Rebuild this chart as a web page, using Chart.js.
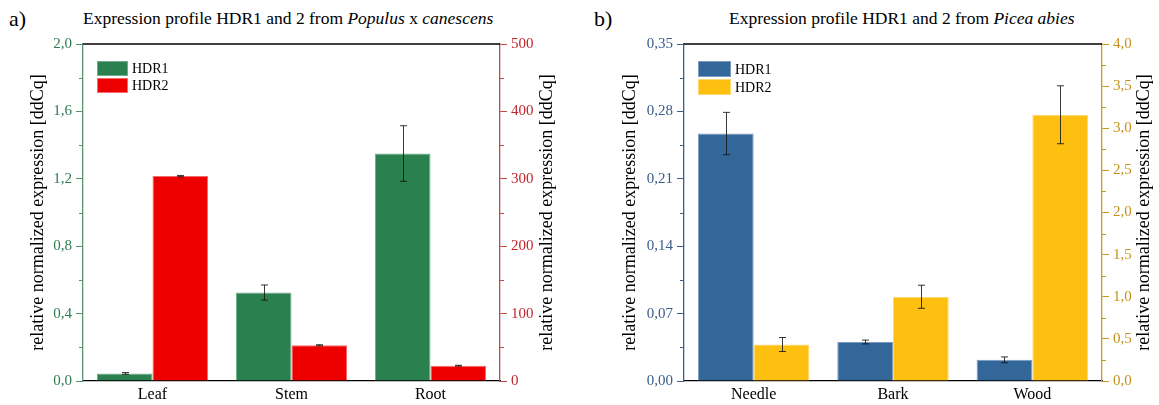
<!DOCTYPE html>
<html>
<head>
<meta charset="utf-8">
<script src="https://cdn.jsdelivr.net/npm/chart.js@4/dist/chart.umd.min.js"></script>
<style>
  html, body { margin: 0; padding: 0; background: #fff; }
  body { width: 1159px; height: 405px; overflow: hidden; position: relative; font-family: "Liberation Serif", Tinos, "Times New Roman", "DejaVu Serif", serif; }
  .panel { position: absolute; top: 0; height: 405px; }
  .tag { position: absolute; top: 6px; font-size: 22px; color: #000; }
  .ttl { position: absolute; top: 8px; font-size: 17.5px; color: #000; white-space: nowrap; }
</style>
</head>
<body>
<div class="tag" style="left:9px">a)</div>
<div class="ttl" style="left:83px">Expression profile HDR1 and 2 from <i>Populus</i> x <i>canescens</i></div>
<div class="tag" style="left:594px">b)</div>
<div class="ttl" style="left:729px">Expression profile HDR1 and 2 from <i>Picea abies</i></div>
<div class="panel" style="left:0;width:580px"><canvas id="cA" width="580" height="405"></canvas></div>
<div class="panel" style="left:580px;width:579px"><canvas id="cB" width="579" height="405"></canvas></div>
<script>
// Populus x canescens
const tissuesA = ['Leaf', 'Stem', 'Root'];
const hdr1A = [0.045, 0.525, 1.35];
const hdr1AErr = [0.005, 0.045, 0.165];
const hdr2A = [304, 53, 22.7];
const hdr2AErr = [1, 0.8, 0.6];
const leftTicksA = [0, 0.4, 0.8, 1.2, 1.6, 2.0];
const leftMinorA = [0.2, 0.6, 1.0, 1.4, 1.8];
const rightTicksA = [0, 100, 200, 300, 400, 500];
const rightMinorA = [50, 150, 250, 350, 450];

// Picea abies
const tissuesB = ['Needle', 'Bark', 'Wood'];
const hdr1B = [0.257, 0.0405, 0.022];
const hdr1BErr = [0.022, 0.002, 0.003];
const hdr2B = [0.433, 1.0, 3.16];
const hdr2BErr = [0.083, 0.137, 0.344];
const leftTicksB = [0, 0.07, 0.14, 0.21, 0.28, 0.35];
const leftMinorB = [0.035, 0.105, 0.175, 0.245, 0.315];
const rightTicksB = [0, 0.5, 1.0, 1.5, 2.0, 2.5, 3.0, 3.5, 4.0];
const rightMinorB = [0.25, 0.75, 1.25, 1.75, 2.25, 2.75, 3.25, 3.75];

const SERIF = '"Liberation Serif", Tinos, "Times New Roman", "DejaVu Serif", serif';
const TITLE_SIZE = 18;
const axisTitle = 'relative normalized expression [ddCq]';
const fmt = (v, d) => Number(v).toFixed(d).replace('.', ',');

// error bars, minor ticks, top frame line, right-hand axis title and the in-plot legend
const decorations = {
  id: 'decorations',
  afterDatasetsDraw(chart) {
    const ctx = chart.ctx;
    ctx.save();
    ctx.strokeStyle = 'rgba(20,20,20,0.85)';
    ctx.lineWidth = 1;
    chart.data.datasets.forEach((ds, di) => {
      const meta = chart.getDatasetMeta(di);
      const ys = chart.scales[ds.yAxisID];
      meta.data.forEach((bar, i) => {
        const v = ds.data[i], e = ds.errors[i];
        const yT = ys.getPixelForValue(v + e), yB = ys.getPixelForValue(v - e);
        const x = Math.round(bar.x) + 0.5;
        ctx.beginPath();
        ctx.moveTo(x, yT); ctx.lineTo(x, yB);
        ctx.moveTo(x - 3.5, yT); ctx.lineTo(x + 3.5, yT);
        ctx.moveTo(x - 3.5, yB); ctx.lineTo(x + 3.5, yB);
        ctx.stroke();
      });
    });
    ctx.restore();
  },
  afterDraw(chart) {
    const ctx = chart.ctx, a = chart.chartArea;
    const o = chart.options.plugins.decorations;
    ctx.save();
    // minor ticks
    ['y', 'y2'].forEach(id => {
      const s = chart.scales[id];
      const minor = o.minor[id];
      ctx.strokeStyle = s.options.border.color;
      ctx.lineWidth = 1;
      minor.forEach(v => {
        const y = Math.round(s.getPixelForValue(v)) + 0.5;
        ctx.beginPath();
        if (id === 'y') { ctx.moveTo(a.left - 4, y); ctx.lineTo(a.left, y); }
        else { ctx.moveTo(a.right, y); ctx.lineTo(a.right + 4, y); }
        ctx.stroke();
      });
    });
    // top frame line
    ctx.strokeStyle = '#000';
    ctx.lineWidth = 1.3;
    ctx.beginPath();
    ctx.moveTo(a.left, a.top); ctx.lineTo(a.right, a.top);
    ctx.stroke();
    // right-hand axis title, reading bottom to top like the left one
    const s2 = chart.scales.y2;
    ctx.save();
    ctx.translate(s2.right - (4 + TITLE_SIZE * 0.6), (a.top + a.bottom) / 2);
    ctx.rotate(-Math.PI / 2);
    ctx.font = TITLE_SIZE + 'px ' + SERIF;
    ctx.fillStyle = '#000';
    ctx.textAlign = 'center';
    ctx.textBaseline = 'middle';
    ctx.fillText(axisTitle, 0, 0);
    ctx.restore();
    // legend
    const L = o.legend;
    ctx.font = L.fontSize + 'px ' + SERIF;
    ctx.textBaseline = 'middle';
    ctx.textAlign = 'left';
    chart.data.datasets.forEach((ds, i) => {
      const bx = a.left + L.dx, by = a.top + L.dy + i * (L.h + L.gap);
      ctx.fillStyle = ds.backgroundColor;
      ctx.fillRect(bx, by, L.w, L.h);
      ctx.strokeStyle = ds.borderColor;
      ctx.lineWidth = 1;
      ctx.strokeRect(bx + 0.5, by + 0.5, L.w - 1, L.h - 1);
      ctx.fillStyle = '#000';
      ctx.fillText(ds.label, bx + L.w + 4, by + L.h / 2 + 1);
    });
    ctx.restore();
  }
};

function buildChart(canvasId, p) {
  return new Chart(document.getElementById(canvasId), {
    type: 'bar',
    data: {
      labels: p.labels,
      datasets: [
        { label: 'HDR1', data: p.s1, errors: p.e1, yAxisID: 'y',
          backgroundColor: p.c1, borderColor: p.b1, borderWidth: 1,
          categoryPercentage: 0.8, barPercentage: 1.0 },
        { label: 'HDR2', data: p.s2, errors: p.e2, yAxisID: 'y2',
          backgroundColor: p.c2, borderColor: p.b2, borderWidth: 1,
          categoryPercentage: 0.8, barPercentage: 1.0 }
      ]
    },
    options: {
      responsive: false,
      animation: false,
      events: [],
      layout: { padding: { left: p.padL, right: p.padR, top: 44, bottom: 0 } },
      plugins: {
        legend: { display: false },
        tooltip: { enabled: false },
        decorations: {
          minor: { y: p.minorL, y2: p.minorR },
          legend: p.legend
        }
      },
      scales: {
        x: {
          grid: { display: false, drawTicks: false },
          border: { color: '#000', width: 1.3 },
          ticks: { color: '#000', font: { family: SERIF, size: 16 }, padding: 4 },
          afterFit: s => { s.height = 24; }
        },
        y: {
          position: 'left', min: 0, max: p.maxL,
          afterBuildTicks: s => { s.ticks = p.ticksL.map(v => ({ value: v })); },
          ticks: { color: p.tc1, font: { family: SERIF, size: 15 }, padding: 4,
                   callback: v => fmt(v, p.decL) },
          grid: { drawOnChartArea: false, tickLength: 7, color: p.ac1, tickColor: p.ac1, tickWidth: 1 },
          border: { color: p.ac1, width: 1.3 },
          title: { display: true, text: axisTitle, color: '#000', font: { family: SERIF, size: TITLE_SIZE } },
          afterFit: s => { s.width = p.wL; }
        },
        y2: {
          position: 'right', min: 0, max: p.maxR,
          afterBuildTicks: s => { s.ticks = p.ticksR.map(v => ({ value: v })); },
          ticks: { color: p.tc2, font: { family: SERIF, size: 15 }, padding: 4,
                   callback: v => fmt(v, p.decR) },
          grid: { drawOnChartArea: false, tickLength: 7, color: p.ac2, tickColor: p.ac2, tickWidth: 1 },
          border: { color: p.ac2, width: 1.3 },
          afterFit: s => { s.width = p.wR; }
        }
      }
    },
    plugins: [decorations]
  });
}

buildChart('cA', {
  labels: tissuesA, s1: hdr1A, e1: hdr1AErr, s2: hdr2A, e2: hdr2AErr,
  c1: '#2a814f', b1: '#6fae8a', c2: '#ee0000', b2: '#f56a6a',
  tc1: '#2e7a50', ac1: '#5a9072', tc2: '#c0262c', ac2: '#c4474c',
  maxL: 2.0, ticksL: leftTicksA, minorL: leftMinorA, decL: 1,
  maxR: 500, ticksR: rightTicksA, minorR: rightMinorA, decR: 0,
  padL: 23, wL: 60, padR: 18, wR: 62,
  legend: { dx: 14, dy: 17, w: 31, h: 15, gap: 2, fontSize: 14 }
});

buildChart('cB', {
  labels: tissuesB, s1: hdr1B, e1: hdr1BErr, s2: hdr2B, e2: hdr2BErr,
  c1: '#336699', b1: '#7a9cc0', c2: '#fdc010', b2: '#fed870',
  tc1: '#3a5d88', ac1: '#35608f', tc2: '#c4921c', ac2: '#c8981f',
  maxL: 0.35, ticksL: leftTicksB, minorL: leftMinorB, decL: 2,
  maxR: 4.0, ticksR: rightTicksB, minorR: rightMinorB, decR: 1,
  padL: 35, wL: 69, padR: 0, wR: 57,
  legend: { dx: 14, dy: 17, w: 33, h: 16, gap: 2, fontSize: 14 }
});
</script>
</body>
</html>
